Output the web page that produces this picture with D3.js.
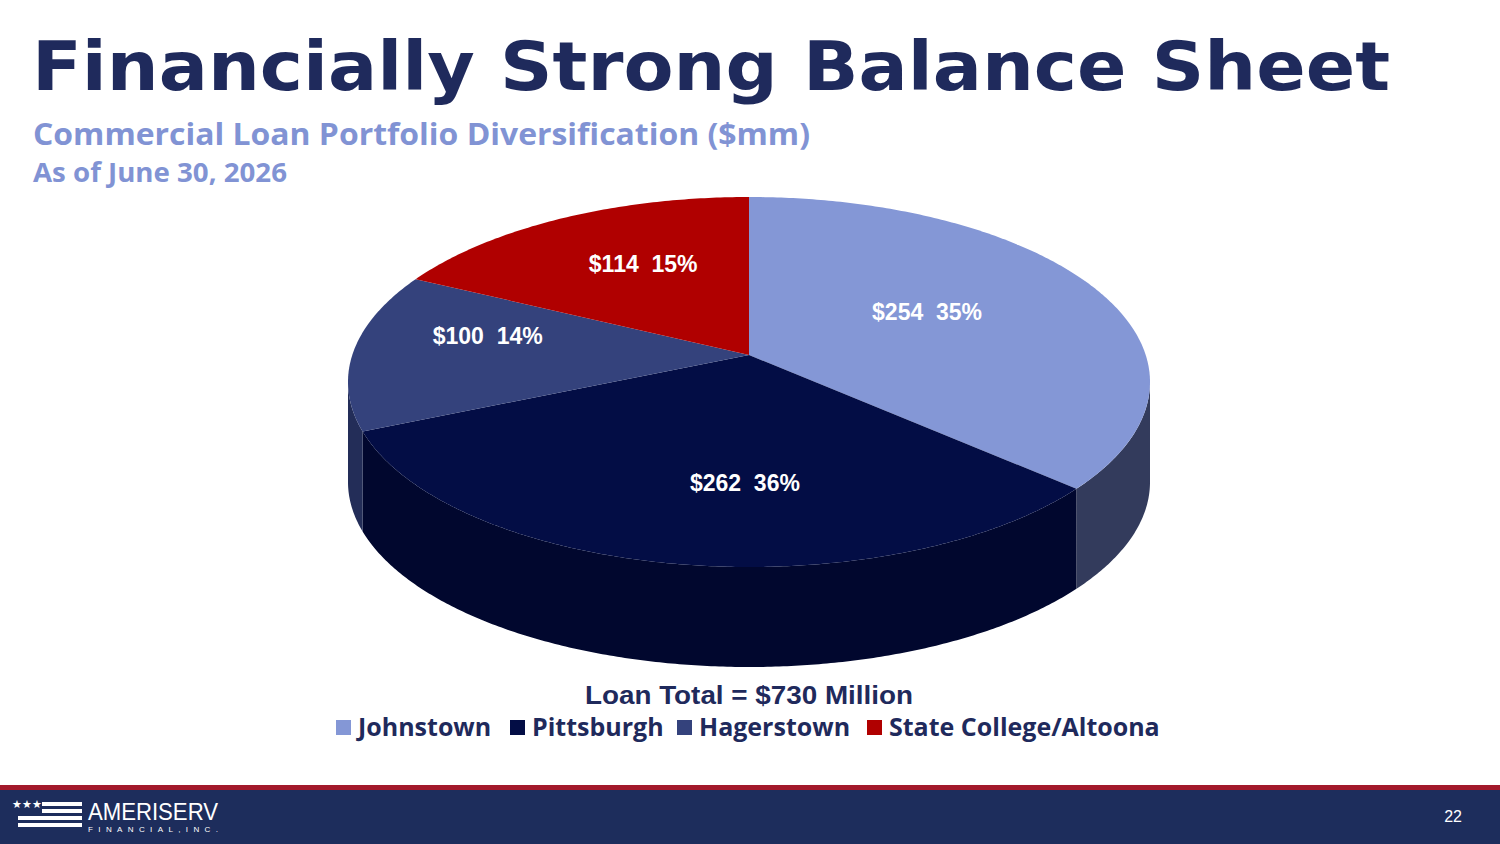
<!DOCTYPE html>
<html><head><meta charset="utf-8">
<script src="https://cdn.jsdelivr.net/npm/d3@7"></script>
<style>body{margin:0;background:#fff;overflow:hidden}</style>
</head><body><div id="chart"></div>
<script>
var categories = ["Johnstown", "Pittsburgh", "Hagerstown", "State College/Altoona"];
var values = [254, 262, 100, 114];
var percents = ["35%", "36%", "14%", "15%"];
var topColors = ["#8497d6", "#030d45", "#34427c", "#b00000"];
var sideColors = ["#333b5c", "#01072e", "#232d58", "#780000"];

var w = 1500, h = 844;
var svg = d3.select("#chart").append("svg").attr("width", w).attr("height", h)
  .style("font-family", "Arial, 'Liberation Sans', sans-serif");

svg.append("text").attr("x", 32).attr("y", 90).text("Financially Strong Balance Sheet")
  .attr("fill", "#1f2a5c").attr("font-size", 68).attr("font-weight", 900)
  .attr("font-family", "'DejaVu Sans', sans-serif")
  .attr("textLength", 1358).attr("lengthAdjust", "spacingAndGlyphs");
svg.append("text").attr("x", 33).attr("y", 145).text("Commercial Loan Portfolio Diversification ($mm)")
  .attr("fill", "#8193d4").attr("font-size", 30).attr("font-weight", "bold")
  .attr("font-family", "'Open Sans', sans-serif").attr("textLength", 777).attr("lengthAdjust", "spacingAndGlyphs");
svg.append("text").attr("x", 33).attr("y", 182).text("As of June 30, 2026")
  .attr("fill", "#8193d4").attr("font-size", 26).attr("font-weight", "bold")
  .attr("font-family", "'Open Sans', sans-serif").attr("textLength", 254).attr("lengthAdjust", "spacingAndGlyphs");

var cx = 749, cy = 382, rx = 401, ry = 185, depth = 100, apexY = 355;
var total = d3.sum(values);
var ang = d3.scaleLinear().domain([0, total]).range([0, 2 * Math.PI]);
function pt(t, dy) { return [cx + rx * Math.sin(t), cy - ry * Math.cos(t) + (dy || 0)]; }

var starts = [], acc = 0;
values.forEach(function(v) { starts.push(acc); acc += v; });

// side walls
values.forEach(function(v, i) {
  var a = Math.max(ang(starts[i]), Math.PI / 2), b = Math.min(ang(starts[i] + v), 3 * Math.PI / 2);
  if (b <= a) return;
  var ts = d3.range(a, b, 0.01).concat([b]);
  var pts = ts.map(function(t) { return pt(t); }).concat(ts.slice().reverse().map(function(t) { return pt(t, depth); }));
  svg.append("path").attr("d", d3.line()(pts) + "Z").attr("fill", sideColors[i]);
});

// top faces
values.forEach(function(v, i) {
  var a = ang(starts[i]), b = ang(starts[i] + v);
  var ts = d3.range(a, b, 0.01).concat([b]);
  var pts = [[cx, apexY]].concat(ts.map(function(t) { return pt(t); }));
  svg.append("path").attr("d", d3.line()(pts) + "Z").attr("fill", topColors[i]);
});

// labels
var labelR = [0.5, 0.7, 0.66, 0.56];
values.forEach(function(v, i) {
  var t = ang(starts[i] + v / 2), r = labelR[i];
  var x = cx + rx * r * Math.sin(t), y = apexY - ry * r * Math.cos(t);
  if (i === 1) x += 44;
  svg.append("text").attr("x", x).attr("y", y + 8).attr("text-anchor", "middle")
    .attr("fill", "#fff").attr("font-size", 23).attr("font-weight", "bold")
    .style("white-space", "pre").text("$" + v + "  " + percents[i]);
});

svg.append("text").attr("x", 749).attr("y", 704).attr("text-anchor", "middle")
  .attr("fill", "#1f2a5c").attr("font-size", 26).attr("font-weight", "bold")
  .attr("textLength", 328).attr("lengthAdjust", "spacingAndGlyphs").text("Loan Total = $730 Million");

var legX = [336, 510, 677, 867];
categories.forEach(function(c, i) {
  svg.append("rect").attr("x", legX[i]).attr("y", 720).attr("width", 15).attr("height", 15).attr("fill", topColors[i]);
  svg.append("text").attr("x", legX[i] + 22).attr("y", 736).attr("fill", "#1f2a5c")
    .attr("font-size", 25).attr("font-weight", "bold").attr("font-family", "'Open Sans', sans-serif").text(c);
});

// footer
svg.append("rect").attr("x", 0).attr("y", 785).attr("width", w).attr("height", 5).attr("fill", "#a2192b");
svg.append("rect").attr("x", 0).attr("y", 790).attr("width", w).attr("height", 54).attr("fill", "#1d2d5c");
[0, 1, 2, 3].forEach(function(k) {
  svg.append("rect").attr("x", k < 2 ? 42 : 18).attr("y", 802 + k * 7).attr("width", k < 2 ? 40 : 64).attr("height", 4).attr("fill", "#fff");
});
svg.append("text").attr("x", 12).attr("y", 808).attr("fill", "#fff").attr("font-size", 11).text("★★★");
svg.append("text").attr("x", 88).attr("y", 820).attr("fill", "#fff").attr("font-size", 24)
  .attr("textLength", 130).attr("lengthAdjust", "spacingAndGlyphs").text("AMERISERV");
svg.append("text").attr("x", 88).attr("y", 832).attr("fill", "#fff").attr("font-size", 8)
  .attr("textLength", 130).text("FINANCIAL,INC.");
svg.append("text").attr("x", 1462).attr("y", 822).attr("text-anchor", "end").attr("fill", "#fff").attr("font-size", 16).text("22");
</script></body></html>
